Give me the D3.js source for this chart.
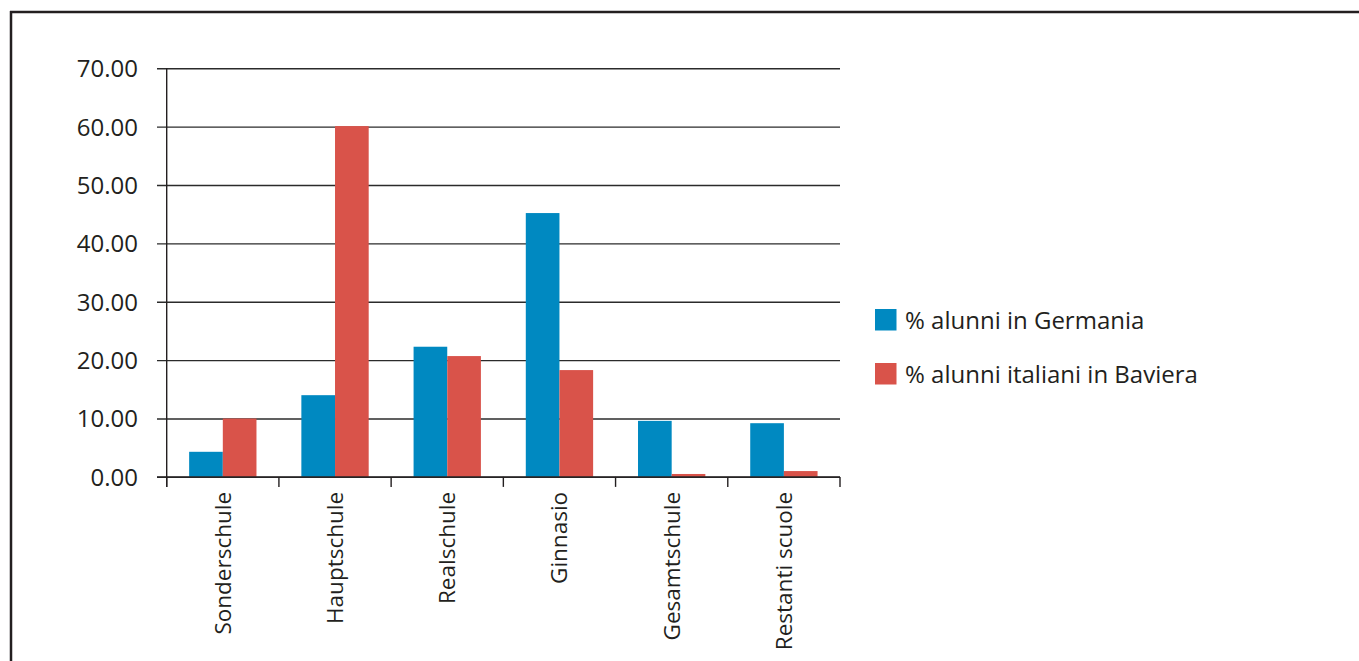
<!DOCTYPE html>
<html>
<head>
<meta charset="utf-8">
<script src="https://cdn.jsdelivr.net/npm/d3@7"></script>
<style>
  html, body { margin: 0; padding: 0; background: #fff; }
  svg { display: block; }
  text { font-family: "Open Sans", "Noto Sans", sans-serif; fill: #231f20; }
</style>
</head>
<body>
<svg id="chart" width="1359" height="661"></svg>
<script>
// School types and shares of pupils (%)
const categories = ["Sonderschule", "Hauptschule", "Realschule", "Ginnasio", "Gesamtschule", "Restanti scuole"];
const seriesNames = ["% alunni in Germania", "% alunni italiani in Baviera"];
const germania = [4.3, 14.0, 22.3, 45.2, 9.6, 9.2];
const baviera  = [10.0, 60.1, 20.7, 18.3, 0.5, 1.0];
const yTicks = [0, 10, 20, 30, 40, 50, 60, 70];
const colors = ["#0089c1", "#d9534a"];

const svg = d3.select("#chart");

// Frame lines on the top and left edges
svg.append("line").attr("x1", 10).attr("x2", 1359).attr("y1", 12).attr("y2", 12)
  .attr("stroke", "#231f20").attr("stroke-width", 2.5);
svg.append("line").attr("x1", 11).attr("x2", 11).attr("y1", 11).attr("y2", 661)
  .attr("stroke", "#231f20").attr("stroke-width", 2.5);

const x0 = d3.scaleBand().domain(categories).range([166.7, 840]).padding(0);
const x1 = d3.scaleBand().domain(seriesNames)
  .range([x0.bandwidth() * 0.2, x0.bandwidth() * 0.8]).padding(0);
const y = d3.scaleLinear().domain([0, 70]).range([476.9, 68.3]);

// Horizontal gridlines and y-axis labels
const yAxis = d3.axisLeft(y).tickValues(yTicks).tickFormat(d3.format(".2f"))
  .tickSize(-(840 - 157)).tickPadding(20);
const gy = svg.append("g").attr("transform", "translate(157,0)").call(yAxis);
gy.select(".domain").remove();
gy.selectAll(".tick line").attr("stroke", "#2b2b2b").attr("stroke-width", 1.4);
gy.selectAll(".tick text").attr("font-size", 24).attr("fill", "#231f20")
  .attr("x", -19).attr("dy", "0.35em");

// Bars
const rows = categories.map((c, i) => ({ cat: c, vals: [germania[i], baviera[i]] }));
const groups = svg.append("g").selectAll("g").data(rows).join("g")
  .attr("transform", d => `translate(${x0(d.cat)},0)`);
groups.selectAll("rect")
  .data(d => d.vals.map((v, k) => ({ name: seriesNames[k], v, k })))
  .join("rect")
  .attr("x", d => x1(d.name))
  .attr("width", x1.bandwidth())
  .attr("y", d => y(d.v))
  .attr("height", d => y(0) - y(d.v))
  .attr("fill", d => colors[d.k]);

// Vertical axis line
svg.append("line").attr("x1", 166.7).attr("x2", 166.7).attr("y1", y(70)).attr("y2", 487)
  .attr("stroke", "#231f20").attr("stroke-width", 1.4);

// Category axis: boundary ticks and rotated labels
const gx = svg.append("g").attr("transform", `translate(0,${y(0)})`);
gx.append("line").attr("x1", 157).attr("x2", 840).attr("y1", 0).attr("y2", 0)
  .attr("stroke", "#231f20").attr("stroke-width", 1.4);
const bounds = categories.map(c => x0(c)).concat([x0.range()[1]]);
gx.selectAll("line.tk").data(bounds).join("line").attr("class", "tk")
  .attr("x1", d => d).attr("x2", d => d).attr("y1", 0).attr("y2", 10)
  .attr("stroke", "#231f20").attr("stroke-width", 1.4);
gx.selectAll("text.lbl").data(categories).join("text").attr("class", "lbl")
  .attr("transform", d => `translate(${x0(d) + x0.bandwidth() / 2},${15}) rotate(-90)`)
  .attr("text-anchor", "end").attr("dy", "0.35em")
  .attr("font-size", 22.5).text(d => d);

// Legend
const legend = svg.append("g").attr("transform", "translate(875,309)");
const li = legend.selectAll("g").data(seriesNames).join("g")
  .attr("transform", (d, i) => `translate(0,${i * 54})`);
li.append("rect").attr("width", 21.5).attr("height", 21.5).attr("fill", (d, i) => colors[i]);
li.append("text").attr("x", 30).attr("y", 20).attr("font-size", 24).text(d => d);
</script>
</body>
</html>
